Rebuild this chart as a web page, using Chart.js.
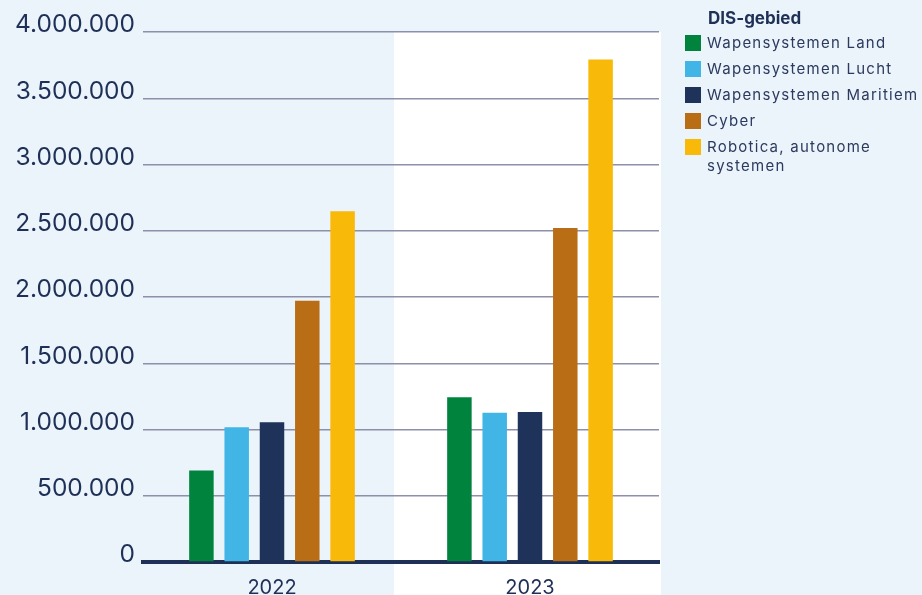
<!DOCTYPE html>
<html>
<head>
<meta charset="utf-8">
<script src="https://cdn.jsdelivr.net/npm/chart.js@4/dist/chart.umd.min.js"></script>
<style>
  html, body { margin: 0; padding: 0; background: #EBF3FB; }
  #wrap { position: relative; width: 922px; height: 595px; overflow: hidden; }
  #c { position: absolute; left: 0; top: 0; }
  #legend { position: absolute; left: 685px; top: 8px; font-family: Inter, sans-serif; color: #2B3A5E; }
  #legend .title { font-weight: 700; font-size: 17px; line-height: 20px; color: #1F3057; margin-left: 23px; margin-bottom: 7px; }
  #legend .row { display: flex; align-items: flex-start; margin-bottom: 8.5px; }
  #legend .box { width: 16px; height: 16px; flex: none; margin-right: 6px; }
  #legend .txt { font-size: 15px; line-height: 18.5px; letter-spacing: 1.25px; margin-top: -1px; max-width: 216px; }
</style>
</head>
<body>
<div id="wrap">
  <canvas id="c" width="922" height="595"></canvas>
  <div id="legend"></div>
</div>
<script>
const legendTitle = "DIS-gebied";
const categories = ["2022", "2023"];
const seriesNames = ["Wapensystemen Land", "Wapensystemen Lucht", "Wapensystemen Maritiem", "Cyber", "Robotica, autonome systemen"];
const seriesColors = ["#00843D", "#41B6E6", "#1F3259", "#B96E16", "#F9B908"];
const land = [690000, 1244000];
const lucht = [1017000, 1126000];
const maritiem = [1054000, 1133000];
const cyber = [1972000, 2521000];
const robotica = [2647000, 3793000];
const seriesValues = [land, lucht, maritiem, cyber, robotica];
const yTicks = [0, 500000, 1000000, 1500000, 2000000, 2500000, 3000000, 3500000, 4000000];

const textColor = "#1F3057";
const fmt = v => String(v).replace(/\B(?=(\d{3})+(?!\d))/g, ".");

// HTML legend
const lg = document.getElementById('legend');
const t = document.createElement('div'); t.className = 'title'; t.textContent = legendTitle; lg.appendChild(t);
seriesNames.forEach((n, i) => {
  const r = document.createElement('div'); r.className = 'row';
  const b = document.createElement('div'); b.className = 'box'; b.style.background = seriesColors[i];
  const s = document.createElement('div'); s.className = 'txt'; s.textContent = n;
  r.appendChild(b); r.appendChild(s); lg.appendChild(r);
});

const bandPlugin = {
  id: 'band',
  beforeDraw(chart) {
    const { ctx, chartArea, scales } = chart;
    const x = scales.x;
    const mid = (x.getPixelForValue(0) + x.getPixelForValue(1)) / 2 - 7;
    ctx.save();
    ctx.fillStyle = '#FFFFFF';
    ctx.fillRect(mid, chartArea.top, chartArea.right + 2 - mid, chart.height - chartArea.top);
    ctx.restore();
  }
};

new Chart(document.getElementById('c'), {
  type: 'bar',
  data: {
    labels: categories,
    datasets: seriesNames.map((n, i) => ({
      label: n,
      data: seriesValues[i],
      backgroundColor: seriesColors[i],
      borderWidth: 0,
      categoryPercentage: 0.684,
      barPercentage: 0.694
    }))
  },
  options: {
    responsive: false,
    animation: false,
    layout: { padding: { top: 32, right: 263, left: 0, bottom: 0 } },
    plugins: { legend: { display: false }, tooltip: { enabled: false } },
    scales: {
      x: {
        grid: { display: false },
        border: { display: true, color: '#1F3057', width: 4 },
        ticks: { color: textColor, font: { family: 'Inter', size: 20 }, padding: 6 },
        afterFit: s => { s.height = 33; }
      },
      y: {
        min: 0, max: 4000000,
        afterBuildTicks: s => { s.ticks = yTicks.map(v => ({ value: v })); },
        grid: { color: '#8E90AA', lineWidth: 1.5, drawTicks: false },
        border: { display: false },
        ticks: { color: textColor, font: { family: 'Inter', size: 24.5 }, padding: 8, labelOffset: -7, callback: v => fmt(v) },
        afterFit: s => { s.width = 143; s.paddingTop = 0; s.paddingBottom = 0; }
      }
    }
  },
  plugins: [bandPlugin]
});
</script>
</body>
</html>
